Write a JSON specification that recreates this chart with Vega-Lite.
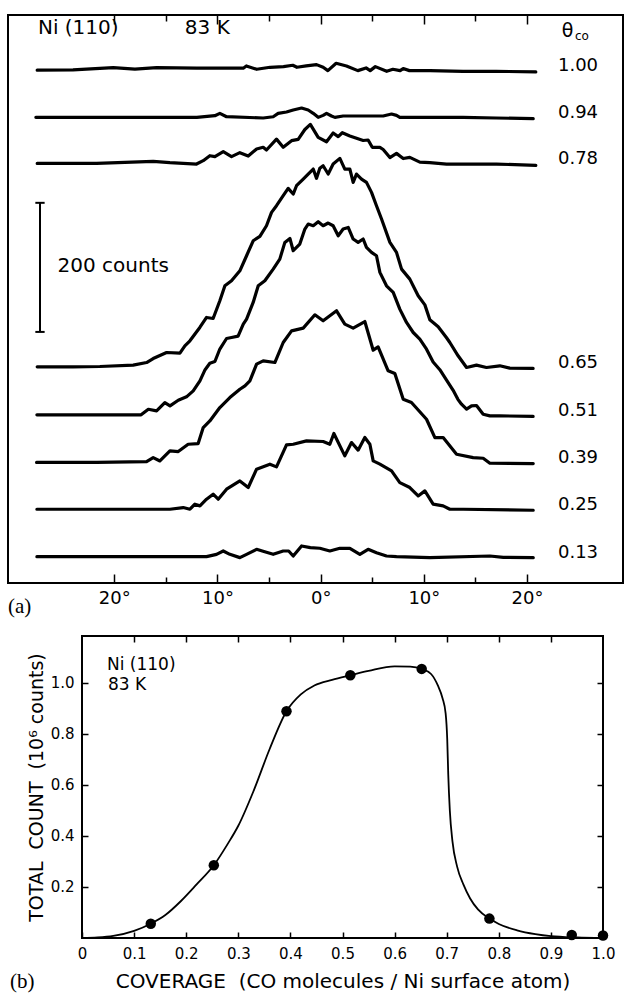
{
 "$schema": "https://vega.github.io/schema/vega-lite/v6.json",
 "background": "white",
 "padding": {"left": 7, "top": 13, "right": 0, "bottom": 0},
 "spacing": 15,
 "config": {
  "view": {"stroke": "black", "strokeWidth": 2},
  "font": "DejaVu Sans",
  "axis": {"domain": false, "grid": false, "tickColor": "black", "tickWidth": 1.5, "labelColor": "black", "titleColor": "black", "labelFont": "DejaVu Sans", "titleFont": "DejaVu Sans", "titleFontWeight": "normal", "labelFlush": false, "labelOverlap": false},
  "text": {"color": "black", "font": "DejaVu Sans"}
 },
 "datasets": {
  "base": [{"k":"1.00","b":794.6},{"k":"0.94","b":721.4},{"k":"0.78","b":650.1},{"k":"0.65","b":334.9},{"k":"0.51","b":260.5},{"k":"0.39","b":186.8},{"k":"0.25","b":114.3},{"k":"0.13","b":40.8}],
  "traces": [
   {"k":"1.00","t":-27.47,"c":0},{"k":"1.00","t":-24,"c":0.5},{"k":"1.00","t":-20.1,"c":4},{"k":"1.00","t":-18,"c":1.5},{"k":"1.00","t":-15.9,"c":4},{"k":"1.00","t":-12,"c":3},{"k":"1.00","t":-7.5,"c":3},{"k":"1.00","t":-7.2,"c":6.5},{"k":"1.00","t":-6.2,"c":1.3},{"k":"1.00","t":-4.9,"c":4.4},{"k":"1.00","t":-3.6,"c":5.4},{"k":"1.00","t":-2.7,"c":7.5},{"k":"1.00","t":-2.3,"c":4.4},{"k":"1.00","t":-1.4,"c":6.5},{"k":"1.00","t":-0.4,"c":8.5},{"k":"1.00","t":0.24,"c":4.4},{"k":"1.00","t":0.7,"c":-0.8},{"k":"1.00","t":1.5,"c":10.6},{"k":"1.00","t":2.5,"c":6.5},{"k":"1.00","t":3.6,"c":-0.8},{"k":"1.00","t":4.4,"c":3.4},{"k":"1.00","t":4.8,"c":-0.8},{"k":"1.00","t":5.3,"c":5.4},{"k":"1.00","t":6.4,"c":-1.8},{"k":"1.00","t":7,"c":1.3},{"k":"1.00","t":7.7,"c":-0.8},{"k":"1.00","t":8,"c":2.4},{"k":"1.00","t":8.6,"c":-0.8},{"k":"1.00","t":10.6,"c":-0.8},{"k":"1.00","t":13.8,"c":-1.8},{"k":"1.00","t":17,"c":-1.8},{"k":"1.00","t":20.85,"c":-2.8},
   {"k":"0.94","t":-27.6,"c":0},{"k":"0.94","t":-18.5,"c":0},{"k":"0.94","t":-12,"c":0},{"k":"0.94","t":-10.25,"c":2.6},{"k":"0.94","t":-9.77,"c":6.2},{"k":"0.94","t":-9.12,"c":1},{"k":"0.94","t":-5.57,"c":-1},{"k":"0.94","t":-4.6,"c":1},{"k":"0.94","t":-4.12,"c":6.2},{"k":"0.94","t":-3.31,"c":8.3},{"k":"0.94","t":-2.66,"c":11.4},{"k":"0.94","t":-1.85,"c":14.5},{"k":"0.94","t":-1.21,"c":11.4},{"k":"0.94","t":-0.72,"c":6.2},{"k":"0.94","t":-0.24,"c":0},{"k":"0.94","t":0.24,"c":3.1},{"k":"0.94","t":0.57,"c":6.2},{"k":"0.94","t":1.05,"c":2.1},{"k":"0.94","t":1.38,"c":0},{"k":"0.94","t":2.18,"c":2.1},{"k":"0.94","t":4.12,"c":2.1},{"k":"0.94","t":6.06,"c":2.1},{"k":"0.94","t":6.87,"c":5.2},{"k":"0.94","t":7.35,"c":3.1},{"k":"0.94","t":7.67,"c":0},{"k":"0.94","t":10.6,"c":0},{"k":"0.94","t":13.8,"c":0},{"k":"0.94","t":17,"c":-1},{"k":"0.94","t":20.6,"c":-2},
   {"k":"0.78","t":-27.47,"c":0},{"k":"0.78","t":-21.72,"c":0},{"k":"0.78","t":-16.23,"c":3.1},{"k":"0.78","t":-14.61,"c":1.1},{"k":"0.78","t":-12.03,"c":-1},{"k":"0.78","t":-11.38,"c":4.2},{"k":"0.78","t":-10.74,"c":11.9},{"k":"0.78","t":-10.25,"c":10.4},{"k":"0.78","t":-9.44,"c":18.1},{"k":"0.78","t":-8.64,"c":10.4},{"k":"0.78","t":-7.83,"c":16.6},{"k":"0.78","t":-7.02,"c":11.4},{"k":"0.78","t":-6.21,"c":22.3},{"k":"0.78","t":-5.57,"c":24.9},{"k":"0.78","t":-5.25,"c":20.7},{"k":"0.78","t":-4.28,"c":37.6},{"k":"0.78","t":-3.63,"c":24.9},{"k":"0.78","t":-2.82,"c":35.2},{"k":"0.78","t":-2.18,"c":37.3},{"k":"0.78","t":-1.53,"c":52.5},{"k":"0.78","t":-1,"c":60.5},{"k":"0.78","t":-0.24,"c":40.4},{"k":"0.78","t":0.57,"c":33.5},{"k":"0.78","t":1.21,"c":47},{"k":"0.78","t":1.7,"c":41.4},{"k":"0.78","t":2.1,"c":47.5},{"k":"0.78","t":2.83,"c":42.4},{"k":"0.78","t":4.12,"c":35.5},{"k":"0.78","t":4.6,"c":36.2},{"k":"0.78","t":5,"c":24.9},{"k":"0.78","t":5.74,"c":24.9},{"k":"0.78","t":6.06,"c":21.5},{"k":"0.78","t":6.71,"c":9},{"k":"0.78","t":7.35,"c":15.5},{"k":"0.78","t":8,"c":7.5},{"k":"0.78","t":8.64,"c":9.3},{"k":"0.78","t":9.61,"c":2},{"k":"0.78","t":10.58,"c":1.1},{"k":"0.78","t":12.2,"c":-1},{"k":"0.78","t":13.81,"c":-1},{"k":"0.78","t":17.04,"c":-1},{"k":"0.78","t":20.85,"c":-3},
   {"k":"0.65","t":-27.47,"c":0},{"k":"0.65","t":-24,"c":0},{"k":"0.65","t":-21.4,"c":0.5},{"k":"0.65","t":-18.17,"c":2.6},{"k":"0.65","t":-16.87,"c":6.7},{"k":"0.65","t":-16.23,"c":12.9},{"k":"0.65","t":-14.93,"c":22.2},{"k":"0.65","t":-13.64,"c":21.2},{"k":"0.65","t":-13.16,"c":32.6},{"k":"0.65","t":-12.67,"c":40.3},{"k":"0.65","t":-11.71,"c":61},{"k":"0.65","t":-11.06,"c":76.5},{"k":"0.65","t":-10.42,"c":74.9},{"k":"0.65","t":-9.77,"c":102.3},{"k":"0.65","t":-9.28,"c":125.6},{"k":"0.65","t":-8.64,"c":133.3},{"k":"0.65","t":-7.83,"c":148.8},{"k":"0.65","t":-7.18,"c":172.1},{"k":"0.65","t":-6.54,"c":195.3},{"k":"0.65","t":-5.89,"c":202},{"k":"0.65","t":-5.25,"c":218.6},{"k":"0.65","t":-4.76,"c":239.3},{"k":"0.65","t":-4.28,"c":249.6},{"k":"0.65","t":-3.63,"c":265.1},{"k":"0.65","t":-3.15,"c":276.5},{"k":"0.65","t":-2.66,"c":267.7},{"k":"0.65","t":-2.34,"c":280.6},{"k":"0.65","t":-1.69,"c":290.9},{"k":"0.65","t":-1.21,"c":298.7},{"k":"0.65","t":-0.72,"c":306.4},{"k":"0.65","t":-0.4,"c":292},{"k":"0.65","t":-0.08,"c":307.5},{"k":"0.65","t":0.24,"c":311.6},{"k":"0.65","t":0.73,"c":298.7},{"k":"0.65","t":1.21,"c":314.2},{"k":"0.65","t":1.86,"c":323},{"k":"0.65","t":2.34,"c":306.4},{"k":"0.65","t":2.83,"c":306.4},{"k":"0.65","t":3.15,"c":285.8},{"k":"0.65","t":3.47,"c":298.7},{"k":"0.65","t":3.96,"c":290.9},{"k":"0.65","t":4.44,"c":285.8},{"k":"0.65","t":4.93,"c":270.3},{"k":"0.65","t":5.41,"c":249.6},{"k":"0.65","t":5.9,"c":229},{"k":"0.65","t":6.71,"c":192.8},{"k":"0.65","t":7.35,"c":177.3},{"k":"0.65","t":7.84,"c":151.4},{"k":"0.65","t":8.64,"c":135.9},{"k":"0.65","t":9.45,"c":110.1},{"k":"0.65","t":10.1,"c":96},{"k":"0.65","t":10.58,"c":72.9},{"k":"0.65","t":11.39,"c":62},{"k":"0.65","t":12.2,"c":45},{"k":"0.65","t":12.52,"c":37.7},{"k":"0.65","t":13.32,"c":17.1},{"k":"0.65","t":14.14,"c":-1},{"k":"0.65","t":15.1,"c":2.6},{"k":"0.65","t":16.07,"c":-1},{"k":"0.65","t":17.36,"c":1.6},{"k":"0.65","t":18.33,"c":-2},{"k":"0.65","t":20.59,"c":-2.5},
   {"k":"0.51","t":-27.5,"c":0},{"k":"0.51","t":-22,"c":0},{"k":"0.51","t":-17.4,"c":0},{"k":"0.51","t":-16.7,"c":8.7},{"k":"0.51","t":-15.9,"c":6.2},{"k":"0.51","t":-15.1,"c":19.1},{"k":"0.51","t":-14.6,"c":14},{"k":"0.51","t":-13.8,"c":22.7},{"k":"0.51","t":-13,"c":27.9},{"k":"0.51","t":-12.35,"c":37.2},{"k":"0.51","t":-11.7,"c":52.7},{"k":"0.51","t":-11.2,"c":70},{"k":"0.51","t":-10.74,"c":80},{"k":"0.51","t":-10.25,"c":82.7},{"k":"0.51","t":-9.77,"c":102},{"k":"0.51","t":-9.12,"c":118.3},{"k":"0.51","t":-8.64,"c":119.9},{"k":"0.51","t":-8,"c":122},{"k":"0.51","t":-7.5,"c":140.5},{"k":"0.51","t":-7.18,"c":148.3},{"k":"0.51","t":-6.54,"c":174.2},{"k":"0.51","t":-6.05,"c":200},{"k":"0.51","t":-5.41,"c":207.8},{"k":"0.51","t":-4.6,"c":225.8},{"k":"0.51","t":-3.96,"c":241.3},{"k":"0.51","t":-3.47,"c":267.2},{"k":"0.51","t":-2.98,"c":273.4},{"k":"0.51","t":-2.66,"c":254.3},{"k":"0.51","t":-2.02,"c":264.6},{"k":"0.51","t":-1.53,"c":287.9},{"k":"0.51","t":-1.21,"c":295.6},{"k":"0.51","t":-0.72,"c":293},{"k":"0.51","t":-0.24,"c":299.2},{"k":"0.51","t":0.24,"c":293},{"k":"0.51","t":0.73,"c":297.2},{"k":"0.51","t":1.21,"c":293},{"k":"0.51","t":1.7,"c":277.5},{"k":"0.51","t":2.18,"c":287.9},{"k":"0.51","t":2.67,"c":290.4},{"k":"0.51","t":3.15,"c":272.4},{"k":"0.51","t":3.63,"c":267.2},{"k":"0.51","t":4.12,"c":272.4},{"k":"0.51","t":4.44,"c":259.4},{"k":"0.51","t":4.93,"c":251.7},{"k":"0.51","t":5.41,"c":246.5},{"k":"0.51","t":5.74,"c":220.7},{"k":"0.51","t":6.38,"c":200},{"k":"0.51","t":7.03,"c":189.7},{"k":"0.51","t":7.67,"c":163.8},{"k":"0.51","t":8.32,"c":143.2},{"k":"0.51","t":8.97,"c":127.6},{"k":"0.51","t":9.61,"c":117.3},{"k":"0.51","t":10.26,"c":101.8},{"k":"0.51","t":10.9,"c":82},{"k":"0.51","t":11.55,"c":70},{"k":"0.51","t":12.2,"c":54},{"k":"0.51","t":12.84,"c":38},{"k":"0.51","t":13.3,"c":24},{"k":"0.51","t":13.65,"c":16.5},{"k":"0.51","t":14.14,"c":8.8},{"k":"0.51","t":14.62,"c":13.9},{"k":"0.51","t":15.1,"c":14.5},{"k":"0.51","t":15.75,"c":1},{"k":"0.51","t":16.4,"c":-1.5},{"k":"0.51","t":17.36,"c":-1.5},{"k":"0.51","t":20.59,"c":-2.5},
   {"k":"0.39","t":-27.53,"c":0},{"k":"0.39","t":-21.7,"c":0},{"k":"0.39","t":-16.87,"c":1.3},{"k":"0.39","t":-16.23,"c":7.5},{"k":"0.39","t":-15.58,"c":2.3},{"k":"0.39","t":-14.61,"c":17.8},{"k":"0.39","t":-13.8,"c":16.8},{"k":"0.39","t":-12.84,"c":28.2},{"k":"0.39","t":-11.87,"c":29.2},{"k":"0.39","t":-11.38,"c":54},{"k":"0.39","t":-10.74,"c":64.3},{"k":"0.39","t":-9.77,"c":85},{"k":"0.39","t":-8.8,"c":100.5},{"k":"0.39","t":-7.83,"c":113.4},{"k":"0.39","t":-7.34,"c":118.6},{"k":"0.39","t":-6.86,"c":126.4},{"k":"0.39","t":-6.21,"c":152.2},{"k":"0.39","t":-5.57,"c":157.4},{"k":"0.39","t":-4.44,"c":154.8},{"k":"0.39","t":-3.63,"c":185.8},{"k":"0.39","t":-2.82,"c":203.9},{"k":"0.39","t":-1.69,"c":208},{"k":"0.39","t":-0.56,"c":228.7},{"k":"0.39","t":0.24,"c":219.4},{"k":"0.39","t":1.54,"c":234.9},{"k":"0.39","t":2.34,"c":214.2},{"k":"0.39","t":3.15,"c":208},{"k":"0.39","t":4.28,"c":218.3},{"k":"0.39","t":5.09,"c":173.9},{"k":"0.39","t":5.57,"c":179.1},{"k":"0.39","t":6.54,"c":141.9},{"k":"0.39","t":7.19,"c":137.7},{"k":"0.39","t":8,"c":97.9},{"k":"0.39","t":8.8,"c":92.8},{"k":"0.39","t":10.26,"c":66.9},{"k":"0.39","t":11.07,"c":38.5},{"k":"0.39","t":11.87,"c":38.5},{"k":"0.39","t":13.17,"c":12.7},{"k":"0.39","t":14.78,"c":7.5},{"k":"0.39","t":15.75,"c":6.5},{"k":"0.39","t":16.4,"c":-1.3},{"k":"0.39","t":20.6,"c":-1.8},
   {"k":"0.25","t":-27.5,"c":0},{"k":"0.25","t":-18.5,"c":0},{"k":"0.25","t":-14.61,"c":0},{"k":"0.25","t":-13.32,"c":2.6},{"k":"0.25","t":-12.67,"c":0},{"k":"0.25","t":-12.19,"c":7.8},{"k":"0.25","t":-11.7,"c":5.2},{"k":"0.25","t":-11.06,"c":15.5},{"k":"0.25","t":-10.42,"c":23.3},{"k":"0.25","t":-9.93,"c":15.5},{"k":"0.25","t":-9.12,"c":31},{"k":"0.25","t":-7.83,"c":43.9},{"k":"0.25","t":-7.02,"c":33.6},{"k":"0.25","t":-6.21,"c":62},{"k":"0.25","t":-4.92,"c":69.8},{"k":"0.25","t":-4.28,"c":65.6},{"k":"0.25","t":-3.31,"c":99.7},{"k":"0.25","t":-2.66,"c":100.7},{"k":"0.25","t":-1.37,"c":105.9},{"k":"0.25","t":0.24,"c":104.9},{"k":"0.25","t":0.89,"c":100.7},{"k":"0.25","t":1.28,"c":117.3},{"k":"0.25","t":2.34,"c":82.7},{"k":"0.25","t":2.99,"c":103.3},{"k":"0.25","t":3.63,"c":91.5},{"k":"0.25","t":4.28,"c":111.1},{"k":"0.25","t":4.77,"c":100.7},{"k":"0.25","t":5.09,"c":74.9},{"k":"0.25","t":5.74,"c":69.8},{"k":"0.25","t":6.87,"c":59.4},{"k":"0.25","t":7.67,"c":41.3},{"k":"0.25","t":8.64,"c":33.6},{"k":"0.25","t":9.45,"c":20.6},{"k":"0.25","t":10.1,"c":28.4},{"k":"0.25","t":10.9,"c":7.8},{"k":"0.25","t":11.87,"c":5.2},{"k":"0.25","t":12.52,"c":0},{"k":"0.25","t":13.81,"c":0},{"k":"0.25","t":20.6,"c":-1.6},
   {"k":"0.13","t":-27.5,"c":0},{"k":"0.13","t":-18.5,"c":0},{"k":"0.13","t":-11.06,"c":0},{"k":"0.13","t":-10.09,"c":3.6},{"k":"0.13","t":-9.44,"c":8.8},{"k":"0.13","t":-8.8,"c":3.6},{"k":"0.13","t":-7.83,"c":-1.5},{"k":"0.13","t":-7.18,"c":3.6},{"k":"0.13","t":-6.21,"c":11.4},{"k":"0.13","t":-5.5,"c":8},{"k":"0.13","t":-4.6,"c":3.6},{"k":"0.13","t":-3.63,"c":8.8},{"k":"0.13","t":-3.1,"c":8.8},{"k":"0.13","t":-2.66,"c":1},{"k":"0.13","t":-1.85,"c":16.6},{"k":"0.13","t":-1,"c":14},{"k":"0.13","t":-0.08,"c":13},{"k":"0.13","t":0.89,"c":8.8},{"k":"0.13","t":1.86,"c":13},{"k":"0.13","t":2.83,"c":13},{"k":"0.13","t":3.8,"c":3.6},{"k":"0.13","t":4.6,"c":11.4},{"k":"0.13","t":5.41,"c":6.2},{"k":"0.13","t":6.38,"c":1},{"k":"0.13","t":7.35,"c":0},{"k":"0.13","t":10.58,"c":-1.5},{"k":"0.13","t":16.4,"c":1},{"k":"0.13","t":17.7,"c":-1},{"k":"0.13","t":20.6,"c":-1.5}
  ],
  "curve": [{"cov":0,"tot":0},{"cov":0.03,"tot":0.002},{"cov":0.06,"tot":0.008},{"cov":0.1,"tot":0.028},{"cov":0.132,"tot":0.056},{"cov":0.16,"tot":0.09},{"cov":0.19,"tot":0.145},{"cov":0.22,"tot":0.21},{"cov":0.253,"tot":0.285},{"cov":0.28,"tot":0.37},{"cov":0.3,"tot":0.44},{"cov":0.33,"tot":0.58},{"cov":0.36,"tot":0.74},{"cov":0.3925,"tot":0.889},{"cov":0.42,"tot":0.955},{"cov":0.446,"tot":0.99},{"cov":0.48,"tot":1.012},{"cov":0.515,"tot":1.03},{"cov":0.55,"tot":1.047},{"cov":0.6,"tot":1.065},{"cov":0.63,"tot":1.064},{"cov":0.652,"tot":1.055},{"cov":0.67,"tot":1.035},{"cov":0.683,"tot":0.99},{"cov":0.692,"tot":0.94},{"cov":0.698,"tot":0.88},{"cov":0.701,"tot":0.78},{"cov":0.703,"tot":0.64},{"cov":0.706,"tot":0.5},{"cov":0.711,"tot":0.38},{"cov":0.72,"tot":0.28},{"cov":0.732,"tot":0.21},{"cov":0.745,"tot":0.155},{"cov":0.76,"tot":0.112},{"cov":0.782,"tot":0.076},{"cov":0.8,"tot":0.055},{"cov":0.835,"tot":0.03},{"cov":0.87,"tot":0.015},{"cov":0.9,"tot":0.007},{"cov":0.95,"tot":0.002},{"cov":1,"tot":0}],
  "pts": [{"cov":0.132,"tot":0.056},{"cov":0.253,"tot":0.285},{"cov":0.3925,"tot":0.889},{"cov":0.515,"tot":1.03},{"cov":0.652,"tot":1.055},{"cov":0.782,"tot":0.076},{"cov":0.94,"tot":0.012},{"cov":1.0,"tot":0.01}]
 },
 "vconcat": [
  {
   "width": 615,
   "height": 568,
   "data": {"values": [{}]},
   "layer": [
    {
     "data": {"name": "traces"},
     "transform": [
      {"lookup": "k", "from": {"data": {"name": "base"}, "key": "k", "fields": ["b"]}},
      {"calculate": "datum.b + datum.c", "as": "y"}
     ],
     "mark": {"type": "line", "color": "black", "strokeWidth": 3.2, "strokeJoin": "round", "strokeCap": "round"},
     "encoding": {
      "x": {"field": "t", "type": "quantitative", "scale": {"domain": [-30.3, 29.3], "nice": false, "zero": false},
            "axis": {"orient": "bottom", "values": [-20, -10, 0, 10, 20], "tickSize": -9, "labelPadding": 15, "labelFontSize": 18, "labelExpr": "abs(datum.value) + '°'", "title": null}},
      "y": {"field": "y", "type": "quantitative", "scale": {"domain": [0, 880], "nice": false, "zero": false}, "axis": null},
      "detail": {"field": "k"}
     }
    },
    {
     "mark": {"type": "rule", "color": "black", "strokeWidth": 2},
     "encoding": {
      "x": {"datum": -27.2, "type": "quantitative", "axis": {"orient": "bottom", "values": [-15, -5, 5, 15], "tickSize": -6, "labels": false, "title": null}},
      "y": {"datum": 389, "type": "quantitative", "axis": null},
      "y2": {"datum": 589}
     }
    },
    {
     "mark": {"type": "rule", "color": "black", "strokeWidth": 2},
     "encoding": {
      "x": {"datum": -27.65, "type": "quantitative", "axis": {"orient": "top", "values": [-20, -10, 0, 10, 20], "tickSize": -9, "labels": false, "title": null}},
      "x2": {"datum": -26.75},
      "y": {"datum": 389, "type": "quantitative", "axis": null}
     }
    },
    {
     "mark": {"type": "rule", "color": "black", "strokeWidth": 2},
     "encoding": {
      "x": {"datum": -27.65, "type": "quantitative", "axis": {"orient": "top", "values": [-15, -5, 5, 15], "tickSize": -6, "labels": false, "title": null}},
      "x2": {"datum": -26.75},
      "y": {"datum": 589, "type": "quantitative", "axis": null}
     }
    },
    {
     "data": {"name": "base"},
     "mark": {"type": "text", "align": "left", "baseline": "middle", "fontSize": 18, "dy": -4},
     "encoding": {
      "x": {"datum": 23.0, "type": "quantitative", "axis": null},
      "y": {"field": "b", "type": "quantitative", "axis": null},
      "text": {"field": "k"}
     }
    },
    {
     "mark": {"type": "text", "align": "left", "baseline": "middle", "fontSize": 20, "text": "200 counts"},
     "encoding": {"x": {"datum": -25.5, "type": "quantitative", "axis": null}, "y": {"datum": 491.5, "type": "quantitative", "axis": null}}
    },
    {
     "mark": {"type": "text", "align": "left", "baseline": "middle", "fontSize": 20, "text": "Ni (110)"},
     "encoding": {"x": {"datum": -27.4, "type": "quantitative", "axis": null}, "y": {"datum": 860.5, "type": "quantitative", "axis": null}}
    },
    {
     "mark": {"type": "text", "align": "left", "baseline": "middle", "fontSize": 20, "text": "83 K"},
     "encoding": {"x": {"datum": -13.16, "type": "quantitative", "axis": null}, "y": {"datum": 860.5, "type": "quantitative", "axis": null}}
    },
    {
     "mark": {"type": "text", "align": "left", "baseline": "middle", "fontSize": 19, "text": "θ"},
     "encoding": {"x": {"datum": 23.37, "type": "quantitative", "axis": null}, "y": {"datum": 855.8, "type": "quantitative", "axis": null}}
    },
    {
     "mark": {"type": "text", "align": "left", "baseline": "middle", "fontSize": 12, "text": "co"},
     "encoding": {"x": {"datum": 24.65, "type": "quantitative", "axis": null}, "y": {"datum": 848, "type": "quantitative", "axis": null}}
    },
    {
     "mark": {"type": "text", "align": "left", "baseline": "middle", "fontSize": 21, "font": "Liberation Serif", "text": "(a)"},
     "encoding": {"x": {"datum": -30.3, "type": "quantitative", "axis": null}, "y": {"datum": -37.2, "type": "quantitative", "axis": null}}
    }
   ],
   "resolve": {"axis": {"x": "independent"}}
  },
  {
   "spacing": 0,
   "hconcat": [
    {
     "width": 1,
     "height": 302,
     "view": {"stroke": null},
     "data": {"values": []},
     "mark": "point",
     "encoding": {}
    },
    {
     "width": 521,
     "height": 302,
     "data": {"values": [{}]},
     "layer": [
      {
       "data": {"name": "curve"},
       "mark": {"type": "line", "color": "black", "strokeWidth": 1.8, "interpolate": "monotone"},
       "encoding": {
        "x": {"field": "cov", "type": "quantitative", "scale": {"domain": [0, 1], "nice": false, "zero": false},
              "axis": {"orient": "bottom", "values": [0, 0.1, 0.2, 0.3, 0.4, 0.5, 0.6, 0.7, 0.8, 0.9, 1], "tickSize": -6, "labelPadding": 14, "labelFontSize": 15, "labelExpr": "datum.value == 0 ? '0' : format(datum.value, '.1f')", "title": "COVERAGE\u00a0\u00a0(CO molecules / Ni surface atom)", "titleFontSize": 20, "titlePadding": 10}},
        "y": {"field": "tot", "type": "quantitative", "scale": {"domain": [0, 1.184], "nice": false, "zero": false},
              "axis": {"orient": "left", "values": [0.2, 0.4, 0.6, 0.8, 1.0], "tickSize": -6, "labelPadding": 14, "labelFontSize": 15, "format": ".1f", "title": "TOTAL\u00a0\u00a0COUNT\u00a0\u00a0(10⁶ counts)", "titleFontSize": 19, "titlePadding": 4}}
       }
      },
      {
       "data": {"name": "pts"},
       "mark": {"type": "circle", "color": "black", "size": 110, "opacity": 1},
       "encoding": {
        "x": {"field": "cov", "type": "quantitative", "axis": {"orient": "top", "values": [0.1, 0.2, 0.3, 0.4, 0.5, 0.6, 0.7, 0.8, 0.9], "tickSize": -6, "labels": false, "title": null}},
        "y": {"field": "tot", "type": "quantitative", "axis": {"orient": "right", "values": [0.2, 0.4, 0.6, 0.8, 1.0], "tickSize": -6, "labels": false, "title": null}}
       }
      },
      {
       "mark": {"type": "text", "align": "left", "baseline": "middle", "fontSize": 17, "text": "Ni (110)"},
       "encoding": {"x": {"datum": 0.048, "type": "quantitative", "axis": null}, "y": {"datum": 1.07, "type": "quantitative", "axis": null}}
      },
      {
       "mark": {"type": "text", "align": "left", "baseline": "middle", "fontSize": 17, "text": "83 K"},
       "encoding": {"x": {"datum": 0.05, "type": "quantitative", "axis": null}, "y": {"datum": 0.992, "type": "quantitative", "axis": null}}
      },
      {
       "mark": {"type": "text", "align": "left", "baseline": "middle", "fontSize": 21, "font": "Liberation Serif", "text": "(b)"},
       "encoding": {"x": {"datum": -0.138, "type": "quantitative", "axis": null}, "y": {"datum": -0.1725, "type": "quantitative", "axis": null}}
      }
     ],
     "resolve": {"axis": {"x": "independent", "y": "independent"}}
    }
   ]
  }
 ]
}
